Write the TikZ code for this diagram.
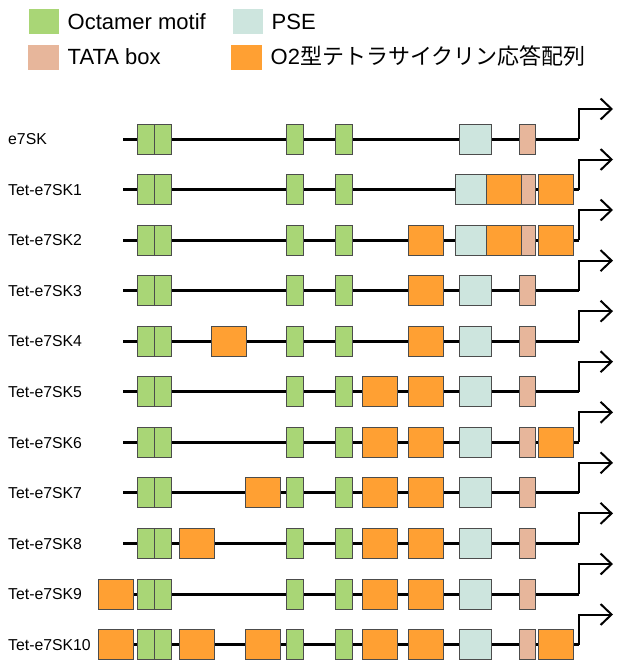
\documentclass[tikz,border=0pt]{standalone}
\usepackage{fontspec}
\setmainfont{Liberation Sans}
\newfontfamily\cjk{Noto Sans CJK JP}
\usetikzlibrary{arrows.meta}
\definecolor{octc}{HTML}{A9D676}
\definecolor{psec}{HTML}{CDE5DE}
\definecolor{tatac}{HTML}{E7B69B}
\definecolor{trec}{HTML}{FFA033}
\tikzset{
  el/.style={draw=black!70, line width=0.9pt, minimum height=30pt, inner sep=0pt, outer sep=0pt},
  oct/.style={el, fill=octc, minimum width=16.6pt},
  pse/.style={el, fill=psec, minimum width=32pt},
  pses/.style={el, fill=psec, minimum width=31pt},
  tata/.style={el, fill=tatac, minimum width=16.7pt},
  tatan/.style={el, fill=tatac, minimum width=14pt},
  tre/.style={el, fill=trec, minimum width=35pt},
  trew/.style={el, fill=trec, minimum width=35.7pt},
  lab/.style={anchor=base west, inner sep=0pt, font=\fontsize{15.8}{18}\selectfont},
  legtxt/.style={anchor=base west, inner sep=0pt, font=\fontsize{22}{26}\selectfont},
  swatch/.style={minimum width=30.5pt, minimum height=25pt, inner sep=0pt},
  backbone/.style={line width=3pt},
  tss/.style={line width=2pt, -{Straight Barb[length=11pt,width=21pt,line width=2pt]}}
}
\newcommand\dnarow[4]{%
  \coordinate (#1s) at (123.3,#2);
  \coordinate (#1e) at (579,#2);
  \coordinate (#1t) at (613,#2-30);
  \draw[backbone] (#1s) -- (#1e);
  \draw[tss] (#1e) |- (#1t);
  \node[lab] (#1l) at (8,#2+5.7) {#3};
  \foreach \t/\x [count=\k] in {#4}{%
    \edef\dnatmp{\noexpand\node[\t] (#1b\k) at (\x,#2) {};}\dnatmp}%
}
\begin{document}
\begin{tikzpicture}[x=1pt,y=-1pt]
\useasboundingbox (0,0) rectangle (620,662);
% legend
\node[swatch, fill=octc] (lgoct) at (43.8,21.7) {};
\node[legtxt] (lgocttxt) at (67.5,29.3) {Octamer motif};
\node[swatch, fill=psec] (lgpse) at (248,21.7) {};
\node[legtxt] (lgpsetxt) at (271.5,29.3) {PSE};
\node[swatch, fill=tatac] (lgtata) at (43.5,57.5) {};
\node[legtxt] (lgtatatxt) at (67.5,64) {TATA box};
\node[swatch, fill=trec] (lgtre) at (246.3,57.5) {};
\node[legtxt] (lgtretxt) at (270.5,64) {O2{\cjk 型テトラサイクリン応答配列}};
% rows
\dnarow{ra}{139}{e7SK}{oct/146,oct/163,oct/295,oct/344.2,pse/475,tata/527.3}
\dnarow{rb}{189.5}{Tet-e7SK1}{oct/146,oct/163,oct/295,oct/344.2,pses/470.5,trew/503.8,tatan/528.7,tre/555.8}
\dnarow{rc}{240}{Tet-e7SK2}{oct/146,oct/163,oct/295,oct/344.2,tre/425.8,pses/470.5,trew/503.8,tatan/528.7,tre/555.8}
\dnarow{rd}{290.6}{Tet-e7SK3}{oct/146,oct/163,oct/295,oct/344.2,tre/425.8,pse/475,tata/527.3}
\dnarow{re}{341.2}{Tet-e7SK4}{oct/146,oct/163,tre/228.5,oct/295,oct/344.2,tre/425.8,pse/475,tata/527.3}
\dnarow{rf}{391.7}{Tet-e7SK5}{oct/146,oct/163,oct/295,oct/344.2,tre/380.2,tre/425.8,pse/475,tata/527.3}
\dnarow{rg}{442.3}{Tet-e7SK6}{oct/146,oct/163,oct/295,oct/344.2,tre/380.2,tre/425.8,pse/475,tata/527.3,tre/555.8}
\dnarow{rh}{492.8}{Tet-e7SK7}{oct/146,oct/163,tre/262.5,oct/295,oct/344.2,tre/380.2,tre/425.8,pse/475,tata/527.3}
\dnarow{ri}{543.4}{Tet-e7SK8}{oct/146,oct/163,tre/196.8,oct/295,oct/344.2,tre/380.2,tre/425.8,pse/475,tata/527.3}
\dnarow{rj}{594}{Tet-e7SK9}{tre/116.3,oct/146,oct/163,oct/295,oct/344.2,tre/380.2,tre/425.8,pse/475,tata/527.3}
\dnarow{rk}{644.5}{Tet-e7SK10}{tre/116.3,oct/146,oct/163,tre/196.8,tre/262.5,oct/295,oct/344.2,tre/380.2,tre/425.8,pse/475,tata/527.3,tre/555.8}
\end{tikzpicture}
\end{document}
